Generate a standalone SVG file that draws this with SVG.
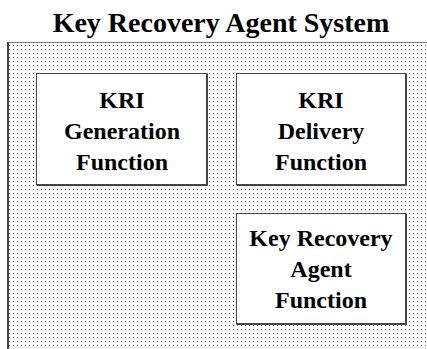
<svg xmlns="http://www.w3.org/2000/svg" width="427" height="349" viewBox="0 0 427 349">
  <defs>
    <!-- stippled fill for the system area -->
    <pattern id="dots" x="0" y="0" width="4" height="4" patternUnits="userSpaceOnUse">
      <rect width="4" height="4" fill="#ffffff"/>
      <rect x="1" y="1" width="1" height="1" fill="#666666"/>
    </pattern>
  </defs>
  <style>
    .title { font-family: "Liberation Serif", "Times New Roman", serif; font-weight: bold; font-size: 28px; fill: #000; }
    .label { font-family: "Liberation Serif", "Times New Roman", serif; font-weight: bold; font-size: 24px; fill: #000; }
    .box { fill: #ffffff; stroke: #444444; stroke-width: 1; }
    .shade { stroke: #444444; stroke-width: 1; fill: none; }
  </style>

  <rect width="427" height="349" fill="#ffffff"/>

  <!-- system boundary -->
  <g id="system">
    <text class="title" x="221" y="32" text-anchor="middle">Key Recovery Agent System</text>
    <rect x="8" y="42" width="425" height="320" fill="url(#dots)"/>
    <path d="M8.5 349 V42.5 H427" fill="none" stroke="#777777" stroke-width="1"/>
    <line x1="8" y1="42" x2="8" y2="349" stroke="#444444" stroke-width="2"/>
  </g>

  <g id="kri-generation">
    <rect class="box" x="36.5" y="73.5" width="170" height="111"/>
    <path class="shade" d="M207.5 73.5 V185.5 H36.5"/>
    <text class="label" text-anchor="middle" x="122" y="108">KRI</text>
    <text class="label" text-anchor="middle" x="122" y="139">Generation</text>
    <text class="label" text-anchor="middle" x="122" y="170">Function</text>
  </g>

  <g id="kri-delivery">
    <rect class="box" x="236.5" y="73.5" width="169" height="111"/>
    <path class="shade" d="M406.5 73.5 V185.5 H236.5"/>
    <text class="label" text-anchor="middle" x="321" y="108">KRI</text>
    <text class="label" text-anchor="middle" x="321" y="139">Delivery</text>
    <text class="label" text-anchor="middle" x="321" y="170">Function</text>
  </g>

  <g id="key-recovery-agent">
    <rect class="box" x="236.5" y="213.5" width="169" height="110"/>
    <path class="shade" d="M406.5 213.5 V324.5 H236.5"/>
    <text class="label" text-anchor="middle" x="321" y="246">Key Recovery</text>
    <text class="label" text-anchor="middle" x="321" y="277">Agent</text>
    <text class="label" text-anchor="middle" x="321" y="308">Function</text>
  </g>

  <g id="connectors"></g>
</svg>
